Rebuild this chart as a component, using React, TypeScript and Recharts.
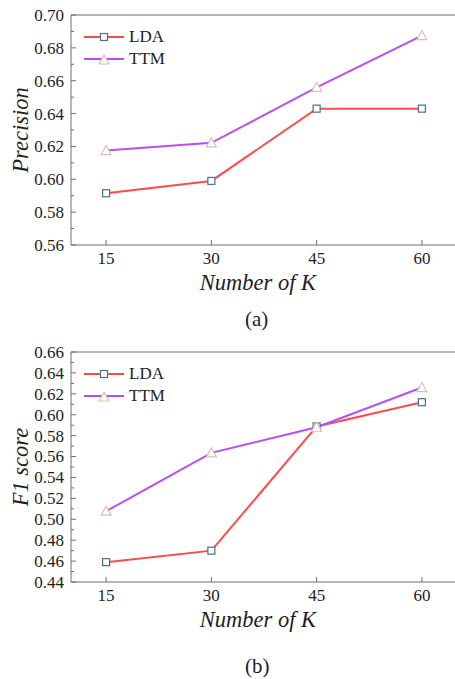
import React from 'react';
import { LineChart, Line, XAxis, YAxis, Legend, ReferenceLine } from 'recharts';

const K_VALUES = [15, 30, 45, 60];
const LDA_PRECISION = [0.5915, 0.599, 0.643, 0.643];
const TTM_PRECISION = [0.6175, 0.6222, 0.656, 0.6875];
const LDA_F1 = [0.459, 0.47, 0.5888, 0.612];
const TTM_F1 = [0.5077, 0.5635, 0.588, 0.626];

const PREC_TICKS = [0.56, 0.57, 0.58, 0.59, 0.6, 0.61, 0.62, 0.63, 0.64, 0.65, 0.66, 0.67, 0.68, 0.69, 0.7];
const F1_TICKS = [0.44, 0.45, 0.46, 0.47, 0.48, 0.49, 0.5, 0.51, 0.52, 0.53, 0.54, 0.55, 0.56, 0.57, 0.58, 0.59, 0.6, 0.61, 0.62, 0.63, 0.64, 0.65, 0.66];

const SERIF = 'Liberation Serif';
const AXIS = '#6e6e6e';
const INK = '#1e1e1e';
const LDA_COLOR = '#ff4b4b';
const TTM_COLOR = '#b84dff';
const SQUARE_STROKE = '#4d6d8f';
const TRI_STROKE = '#d6c2ae';

const Square = ({ cx, cy }: any) => (
  <rect x={cx - 3.5} y={cy - 3.5} width={7} height={7} fill="#fff" stroke={SQUARE_STROKE} strokeWidth={1.2} />
);

const Triangle = ({ cx, cy }: any) => (
  <polygon
    points={`${cx},${cy - 5} ${cx - 5},${cy + 4} ${cx + 5},${cy + 4}`}
    fill="#fff"
    stroke={TRI_STROKE}
    strokeWidth={1.2}
  />
);

// ticks point inward, minor ticks every 0.01 without labels
const YTick = ({ x, y, payload }: any) => {
  const axisX = x + 7;
  const major = Math.round(payload.value * 100) % 2 === 0;
  return (
    <g>
      <line x1={axisX} x2={axisX + (major ? 5 : 3)} y1={y} y2={y} stroke={AXIS} />
      {major && (
        <text x={x} y={y} dy="0.35em" textAnchor="end" style={{ fontFamily: SERIF }} fontSize={17} fill={INK}>
          {payload.value.toFixed(2)}
        </text>
      )}
    </g>
  );
};

const XTick = ({ x, y, payload }: any) => {
  const axisY = y - 7;
  return (
    <g>
      <line x1={x} x2={x} y1={axisY} y2={axisY - 5} stroke={AXIS} />
      <text x={x} y={y} dy="0.71em" textAnchor="middle" style={{ fontFamily: SERIF }} fontSize={17} fill={INK}>
        {payload.value}
      </text>
    </g>
  );
};

const LegendBox = () => (
  <div style={{ fontFamily: SERIF, fontSize: 17, color: INK, lineHeight: '22px' }}>
    {[
      { name: 'LDA', color: LDA_COLOR, marker: 'sq' },
      { name: 'TTM', color: TTM_COLOR, marker: 'tri' },
    ].map((it) => (
      <div key={it.name} style={{ display: 'flex', alignItems: 'center', height: 22 }}>
        <svg width={42} height={12}>
          <line x1={0} x2={40} y1={6} y2={6} stroke={it.color} strokeWidth={2} />
          {it.marker === 'sq' ? <Square cx={20} cy={6} /> : <Triangle cx={20} cy={7} />}
        </svg>
        <span style={{ marginLeft: 3 }}>{it.name}</span>
      </div>
    ))}
  </div>
);

function Panel({ lda, ttm, ticks, yLabel }: { lda: number[]; ttm: number[]; ticks: number[]; yLabel: string }) {
  const data = K_VALUES.map((k, i) => ({ k, lda: lda[i], ttm: ttm[i] }));
  const yMin = ticks[0];
  const yMax = ticks[ticks.length - 1];
  return (
    <LineChart width={457} height={300} data={data} margin={{ top: 15, right: 0, bottom: 0, left: 0 }}>
      <XAxis
        dataKey="k"
        type="number"
        domain={[10, 65]}
        ticks={K_VALUES}
        allowDataOverflow
        height={55}
        tickSize={0}
        tickMargin={7}
        tickLine={false}
        stroke={AXIS}
        tick={<XTick />}
        label={{
          content: () => (
            <text x={258} y={290} textAnchor="middle" style={{ fontFamily: SERIF }} fontStyle="italic" fontSize={22.5} fill={INK}>
              Number of K
            </text>
          ),
        }}
      />
      <YAxis
        type="number"
        domain={[yMin, yMax]}
        ticks={ticks}
        interval={0}
        width={71}
        tickSize={0}
        tickMargin={7}
        tickLine={false}
        stroke={AXIS}
        tick={<YTick />}
        label={{
          content: () => (
            <text
              x={0}
              y={0}
              transform="translate(28, 130) rotate(-90)"
              textAnchor="middle"
              style={{ fontFamily: SERIF }}
              fontStyle="italic"
              fontSize={22.5}
              fill={INK}
            >
              {yLabel}
            </text>
          ),
        }}
      />
      <ReferenceLine y={yMax} stroke={AXIS} />
      <Legend
        layout="vertical"
        verticalAlign="middle"
        align="center"
        content={<LegendBox />}
        wrapperStyle={{ top: 26, left: 84, width: 'auto' }}
      />
      <Line type="linear" dataKey="lda" stroke={LDA_COLOR} strokeWidth={2} dot={<Square />} isAnimationActive={false} />
      <Line type="linear" dataKey="ttm" stroke={TTM_COLOR} strokeWidth={2} dot={<Triangle />} isAnimationActive={false} />
    </LineChart>
  );
}

export default function App() {
  return (
    <div style={{ position: 'absolute', left: 0, top: 0, width: 455, height: 679, overflow: 'hidden', background: '#fff' }}>
      <div style={{ position: 'absolute', left: 0, top: 0 }}>
        <Panel lda={LDA_PRECISION} ttm={TTM_PRECISION} ticks={PREC_TICKS} yLabel="Precision" />
      </div>
      <div style={{ position: 'absolute', left: 245, top: 307, fontFamily: SERIF, fontSize: 21, color: INK }}>(a)</div>
      <div style={{ position: 'absolute', left: 0, top: 337 }}>
        <Panel lda={LDA_F1} ttm={TTM_F1} ticks={F1_TICKS} yLabel="F1 score" />
      </div>
      <div style={{ position: 'absolute', left: 245, top: 654, fontFamily: SERIF, fontSize: 21, color: INK }}>(b)</div>
    </div>
  );
}
